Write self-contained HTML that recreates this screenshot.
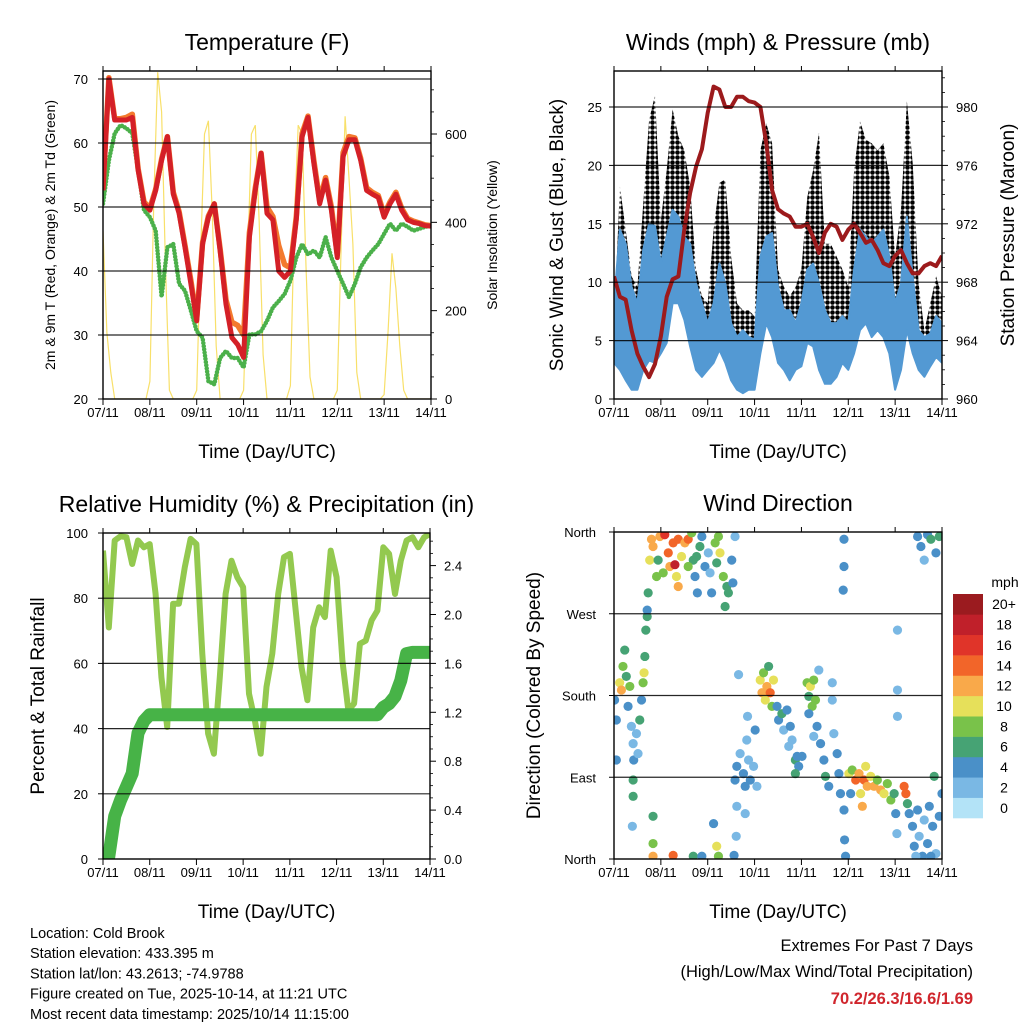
<!DOCTYPE html>
<html><head><meta charset="utf-8"><style>
html,body{margin:0;padding:0;background:#fff;}
svg{display:block;font-family:"Liberation Sans",Arial,sans-serif;}
</style></head><body>
<svg id="fig" width="1024" height="1024" viewBox="0 0 1024 1024" xmlns="http://www.w3.org/2000/svg">
<defs>
<clipPath id="c1"><rect x="103" y="71" width="328" height="328"/></clipPath>
<clipPath id="c2"><rect x="614" y="71" width="328" height="328"/></clipPath>
<clipPath id="c3"><rect x="103" y="533" width="327" height="326"/></clipPath>
<clipPath id="c4"><rect x="614" y="532" width="328" height="327"/></clipPath>
<pattern id="dots" width="5" height="5" patternUnits="userSpaceOnUse"><circle cx="2.5" cy="2.5" r="2.3" fill="#000"/></pattern>
</defs>
</svg>
<script>
// ---------- data (3-hourly, hour 0..168) ----------
const dayLabels = ["07/11","08/11","09/11","10/11","11/11","12/11","13/11","14/11"];
const temp2m = [52.6,70,63.6,63.6,63.6,64,55.8,50.5,49.5,52.6,57.3,61,52,49,43.7,38,32.2,44.2,48.4,50.5,43.2,34.8,29.6,28.5,26.5,45.3,52.6,58.4,49,48,40,39,40,48,61,64,56.8,50.5,54.2,49.5,42.1,57.9,60.5,60.5,57.3,52.6,52,51.5,48.4,50.5,52,49.5,48,47.6,47.4,47.1,47];
const temp9m = [53,70.2,63.8,63.8,64,64.5,56,50.8,49.8,52.8,57.5,61,52.3,49.3,44,38.5,32.5,44.5,48.6,50.5,43.5,35.5,32,31.5,30,46,53,58.4,50,48.5,44,41,40.5,48.5,61.5,64.2,57.2,51,54.6,50,42.5,58.5,61,60.8,57.6,53,52.3,51.8,48.8,50.8,52.3,49.8,48.2,47.8,47.5,47.2,47.1];
const dewpt = [50.5,57.3,61.5,62.8,62.3,61.5,55.8,49.5,48.4,46.3,36,43.7,44.2,38,36.9,33.8,30.6,29.6,22.8,22.3,26.4,27.5,26.4,26.4,24.9,30.1,30.1,30.6,32.2,34.3,35.3,36.4,38.5,42.1,44.2,42.6,43.2,42.1,45.3,42.1,40,38,35.9,38,40.6,42.1,43.2,44.2,45.8,47.4,46.3,47.4,46.9,46.3,46.6,46.9,47.1];
// solar, 2-hourly
const solar = [380,150,60,0,0,0,0,0,0,0,0,0, 40,450,740,650,300,20,0,0,0,0,0,0, 20,330,600,630,420,120,0,0,0,0,0,0, 20,300,600,620,400,100,0,0,0,0,0,0, 30,400,620,600,300,50,0,0,0,0,0,0, 20,350,640,500,350,60,0,0,0,0,0,0, 10,150,330,250,120,20,0,0,0,0,0,0, 0];
const pressure = [968.4,967.0,966.8,964.7,963.1,962.2,961.5,962.4,964.3,967.0,968.2,968.4,971.6,974.1,975.9,977.1,979.6,981.4,981.2,980.0,980.0,980.7,980.7,980.4,980.3,980.0,977.5,974.3,973.0,972.7,972.5,971.8,971.8,972.0,971.1,970.0,971.4,972.0,971.8,970.9,971.6,972.0,971.4,970.7,970.9,970.2,969.3,969.1,969.8,970.2,969.3,968.6,968.6,969.1,969.3,969.1,969.8];
const windHi = [8.2,14.5,13.3,9.6,8.2,12.8,15,14.8,11.6,13.9,16.2,15.6,13.9,13.3,9.9,8.2,6.5,8.2,11.6,9.9,6.5,5.3,5.9,5.3,5.1,12.2,13.9,14.2,9.6,7.6,7.6,6.5,8.2,11.1,11.6,9.9,7.6,6.5,6.5,7.1,6.5,11.1,14.5,13.9,13.3,13.9,14.5,12.2,8.2,9.9,15.6,10.5,5.9,5.3,5.6,7.1,6.5];
const windLo = [3.1,2.5,1.6,0.8,0.8,2.5,3.3,3.1,3.9,4.8,8.2,8.2,6.8,4.5,2.5,1.9,2.5,3.1,4.2,3.1,1.6,0.8,0.5,0.8,0.8,3.9,6.5,5.3,3.1,2.5,1.6,2.5,2.8,4.8,4.5,2.5,1.3,1.3,1.9,3.1,2.5,3.9,5.9,6.5,5.3,5.9,5.3,3.9,0.8,2.5,5.9,3.9,2.5,1.9,2.8,3.6,3.1];
const gustMax = [6.5,18.2,14.5,10.5,9.6,16.8,23.9,26,15.3,19.6,24.8,22.5,21.3,18.2,11.1,8.8,8.2,14.5,18.5,18.8,12.2,8.2,7.6,7.6,7.1,21.3,23.6,21.9,11.1,9.6,8.8,9.6,11.1,17.3,19.6,22.8,13.3,13.3,12.2,11.1,9.6,19.6,23.8,22.2,21.9,21.3,21.9,19.1,12.2,16.2,25.5,20.2,9.9,5.9,8.2,10.5,8.8];
const rh = [94.6,71,97.7,99,98.7,90.5,97.7,95.6,96.6,81.3,55.8,40.5,78.3,78.3,89.5,98.2,96.6,63,38.5,32.3,55.8,81.3,91.5,86.4,83.4,50.7,42.6,32.3,52.8,63,81.3,92.6,93.6,76.2,58.9,48.7,71,77.2,74.2,94.6,86.4,60.9,45.6,47.7,66,67,73.2,76.2,95.6,93.6,81.3,91.5,97.7,98.7,95.6,98.7,99.7];
const precip = [0,0.02,0.35,0.48,0.59,0.70,1.03,1.13,1.18,1.18,1.18,1.18,1.18,1.18,1.18,1.18,1.18,1.18,1.18,1.18,1.18,1.18,1.18,1.18,1.18,1.18,1.18,1.18,1.18,1.18,1.18,1.18,1.18,1.18,1.18,1.18,1.18,1.18,1.18,1.18,1.18,1.18,1.18,1.18,1.18,1.18,1.18,1.18,1.24,1.27,1.33,1.46,1.68,1.69,1.69,1.69,1.69];
// wind direction scatter
const dirHour = [0.3,1.2,1.2,2.9,3.8,4.6,5.5,6.3,7.2,8.1,8.9,9.8,10.1,9.8,9.8,11.5,12.3,13.2,14.1,14.9,15.4,15.8,16.3,17,17,9.4,20,20,20,30.3,40.6,45,51,52.6,53.5,
17.5,18.3,19.2,20,21.8,22.6,23.5,26,27.8,28.6,30.3,31.2,32,32.9,32.9,34.6,36.3,38,39.8,40.6,41.5,42.7,44,45,46.6,48.3,49.2,50,51.8,52.6,53.5,54.3,56,56.9,57.8,58.6,60.3,62,60.9,38,25.2,42.3,
62,62.9,62.9,62.6,61.5,64.6,66.3,67.2,68,68.9,69.8,71.5,72.3,63.8,68.4,73.2,67.2,
74.9,75.8,76.6,77.5,78.3,79.2,80,80.9,81.7,83.5,84.3,86,86.9,88.6,90.3,91.2,92.9,94.6,89.5,96.3,
98.9,99.8,100.6,101.5,102.3,103.2,99.8,104,104.9,105.8,107.5,108.3,110,111.8,111.8,112.6,114.3,115.2,116,117.8,118.1,118.6,117.8,117.8,117.4,102.3,93.8,92.9,
120.3,121.2,122,123.8,125.5,126.3,127.2,128.1,128.9,129.7,131.5,133.2,134.9,136.6,138.3,140,141.8,143.5,144.3,144.9,145.2,145.2,145.2,148.6,149.5,150.3,151.2,
152.9,153.8,155.5,156.3,158,158.9,160.6,161.5,163.2,164,164.9,166.6,168,154.6,162.3,
155.5,157.2,158.9,160.6,162.3,164.9,166.6];
const dirDeg = [175,153,109,194,186,212,230,201,168,190,146,127,109,87,69,138,116,153,175,194,205,223,252,267,274,36,47,17,3,4,3,3,39,14,3,
293,329,352,344,311,329,355,357,337,322,348,324,311,352,300,333,348,352,359,329,311,293,344,355,322,337,315,293,348,326,355,337,311,278,300,293,329,355,304,322,315,333,
87,102,58,25,4,116,94,80,131,109,87,102,142,203,157,80,50,
197,183,205,175,190,212,183,168,197,168,153,160,142,164,146,131,109,102,124,113,
194,179,190,168,197,175,160,146,208,127,109,91,80,194,175,138,116,94,72,54,21,3,352,322,296,135,113,94,
94,72,98,87,94,72,58,87,102,80,91,80,87,76,72,83,65,72,50,28,252,186,157,80,72,61,50,
36,14,54,25,3,43,17,58,36,91,6,47,72,3,3,
355,344,329,357,352,337,355];
const dirSpd = [4,4,4,10,12,8,6,6,4,8,2,2,4,6,6,2,2,6,4,8,10,6,6,6,4,2,6,8,12,14,6,4,4,10,8,
6,10,12,12,8,6,12,16,14,12,14,18,10,14,12,10,12,14,8,6,4,4,6,4,4,2,2,4,8,6,8,10,8,6,6,6,4,2,4,8,8,6,
4,4,2,2,4,2,4,4,2,2,4,2,4,1,2,2,2,
10,12,8,10,12,6,14,8,10,4,4,6,2,4,4,2,6,4,2,4,
8,6,10,8,8,8,4,4,2,4,4,6,4,2,2,2,4,4,4,4,4,4,4,4,4,2,4,6,
10,4,8,14,12,10,12,14,10,12,10,12,8,12,10,8,8,6,4,2,1,1,1,14,14,6,4,
4,4,4,2,4,2,4,4,4,6,2,4,4,2,4,
4,4,2,4,6,4,6];
const spdLabels = ["0","2","4","6","8","10","12","14","16","18","20+"];
const spdColors = ["#b3e3f7","#7ab8e4","#4a90c8","#46a374","#79c24a","#e6e05a","#f9a94a","#f26529","#e03429","#c0202a","#9b1b1f"];

// ---------- helpers ----------
const NS="http://www.w3.org/2000/svg";
const svg=document.getElementById('fig');
function el(tag,attrs,parent,text){const e=document.createElementNS(NS,tag);for(const k in attrs)e.setAttribute(k,attrs[k]);if(text!==undefined)e.textContent=text;(parent||svg).appendChild(e);return e;}
function panel(p){const g=el('g',{});return g;}
function linear(d0,d1,r0,r1){return v=>r0+(v-d0)*(r1-r0)/(d1-d0);}
function pathOf(xs,ys){return xs.map((x,i)=>(i?'L':'M')+x.toFixed(1)+','+ys[i].toFixed(1)).join('');}
function hours(n,step){return Array.from({length:n},(_,i)=>i*step);}
const h3=hours(57,3), h2=hours(85,2);

function frame(g,P){
  P.grid.forEach(v=>{const y=P.yl(v);const l=el('line',{x1:P.x0,x2:P.x1,y1:y,y2:y,stroke:'#000','stroke-width':1.2,'stroke-opacity':0.85},g);
    });
  const r=el('rect',{x:P.x0,y:P.y0,width:P.x1-P.x0,height:P.y1-P.y0,fill:'none',stroke:'#000','stroke-width':1.4},g);
  
  const xs=linear(0,168,P.x0,P.x1);
  dayLabels.forEach((lab,i)=>{const x=xs(i*24);
    el('line',{x1:x,x2:x,y1:P.y1,y2:P.y1+6,stroke:'#000','stroke-width':1},g);
    el('line',{x1:x,x2:x,y1:P.y0,y2:P.y0-5,stroke:'#000','stroke-width':1},g);
    const t=el('text',{x:x,y:P.y1+18,'font-size':13,'text-anchor':'middle'},g,lab);
    });
  const xt=el('text',{x:(P.x0+P.x1)/2,y:P.y1+59,'font-size':19,'text-anchor':'middle'},g,'Time (Day/UTC)');
  
  const tt=el('text',{x:(P.x0+P.x1)/2,y:P.y0-21,'font-size':23,'text-anchor':'middle'},g,P.title);
  
  P.lt.forEach((v,i)=>{const y=P.yl(v);
    el('line',{x1:P.x0-5,x2:P.x0,y1:y,y2:y,stroke:'#000'},g);
    const t=el('text',{x:P.x0-(P.lpad||15),y:y+5,'font-size':13,'text-anchor':'end'},g,P.ll[i]);
    });
  if(P.rt){P.rt.forEach((v,i)=>{const y=P.yr(v);
    el('line',{x1:P.x1,x2:P.x1+6,y1:y,y2:y,stroke:'#000'},g);
    const t=el('text',{x:P.x1+14,y:y+5,'font-size':13},g,P.rl[i]);
    });
    if(P.rminor)P.rminor.forEach(v=>{const y=P.yr(v);el('line',{x1:P.x1,x2:P.x1+3,y1:y,y2:y,stroke:'#000','stroke-width':0.8},g);});
  }
  const cy=(P.y0+P.y1)/2;
  const ly=el('text',{x:P.ltx,y:cy,'font-size':P.lfs,'text-anchor':'middle',transform:`rotate(-90 ${P.ltx} ${cy})`},g,P.ltitle);
  
  if(P.rtitle){const ry=el('text',{x:P.rtx,y:cy,'font-size':P.rfs,'text-anchor':'middle',transform:`rotate(-90 ${P.rtx} ${cy})`},g,P.rtitle);
    }
}

// ---------- Panel 1: temperature ----------
(function(){
  const P={x0:103,x1:431,y0:71,y1:399,title:'Temperature (F)',name:'temperature-panel'};
  P.yl=linear(20,70,399,79);P.yr=linear(0,600,399,134);
  P.grid=[30,40,50,60,70];P.lt=[20,30,40,50,60,70];P.ll=P.lt.map(String);
  P.rt=[0,200,400,600];P.rl=P.rt.map(String);P.rminor=[50,100,150,250,300,350,450,500,550,650,700];
  P.ltx=55;P.lfs=14;P.ltitle='2m & 9m T (Red, Orange) & 2m Td (Green)';P.rtx=497;P.rfs=14;P.rtitle='Solar Insolation (Yellow)';
  const g=panel(P);const d=el('g',{'clip-path':'url(#c1)'},g);
  const xs=linear(0,168,P.x0,P.x1);
  const s=el('path',{d:pathOf(h2.map(xs),solar.map(P.yr)),fill:'none',stroke:'#f8e06a','stroke-width':1.2},d);
  
  const dp=el('path',{d:pathOf(h3.map(xs),dewpt.map(P.yl)),fill:'none',stroke:'#4bb04a','stroke-width':4.5,'stroke-linejoin':'round','stroke-linecap':'round','stroke-dasharray':'0 3.2'},d);
  
  const o=el('path',{d:pathOf(h3.map(xs),temp9m.map(P.yl)),fill:'none',stroke:'#f37a2e','stroke-width':5.5,'stroke-linejoin':'round'},d);
  
  const r=el('path',{d:pathOf(h3.map(xs),temp2m.map(P.yl)),fill:'none',stroke:'#d42027','stroke-width':5,'stroke-linejoin':'round'},d);
  
  frame(g,P);
})();

// ---------- Panel 2: winds ----------
(function(){
  const P={x0:614,x1:942,y0:71,y1:399,title:'Winds (mph) & Pressure (mb)',name:'winds-panel'};
  P.yl=linear(0,25,399,107);P.yr=linear(960,980,399,107);
  P.grid=[5,10,15,20,25];P.lt=[0,5,10,15,20,25];P.ll=P.lt.map(String);P.lpad=12;
  P.rt=[960,964,968,972,976,980];P.rl=P.rt.map(String);P.rminor=[961,962,963,965,966,967,969,970,971,973,974,975,977,978,979,981,982];
  P.ltx=563;P.lfs=19;P.ltitle='Sonic Wind & Gust (Blue, Black)';P.rtx=1014;P.rfs=19;P.rtitle='Station Pressure (Maroon)';
  const g=panel(P);const d=el('g',{'clip-path':'url(#c2)'},g);
  const xs=linear(0,168,P.x0,P.x1);
  const X=h3.map(xs);
  const gp='M'+X.map((x,i)=>x.toFixed(1)+','+P.yl(gustMax[i]).toFixed(1)).join('L')+'L'+X.slice().reverse().map((x,j)=>x.toFixed(1)+','+P.yl(windLo[56-j]).toFixed(1)).join('L')+'Z';
  const gb=el('path',{d:gp,fill:'url(#dots)',stroke:'none'},d);
  
  const wp='M'+X.map((x,i)=>x.toFixed(1)+','+P.yl(windHi[i]).toFixed(1)).join('L')+'L'+X.slice().reverse().map((x,j)=>x.toFixed(1)+','+P.yl(windLo[56-j]).toFixed(1)).join('L')+'Z';
  const wb=el('path',{d:wp,fill:'#5399d3',stroke:'#5399d3','stroke-width':2,'stroke-linejoin':'round'},d);
  
  const pr=el('path',{d:pathOf(X,pressure.map(P.yr)),fill:'none',stroke:'#9c1a1c','stroke-width':4,'stroke-linejoin':'round'},d);
  
  frame(g,P);
})();

// ---------- Panel 3: RH & precip ----------
(function(){
  const P={x0:103,x1:430,y0:533,y1:859,title:'Relative Humidity (%) & Precipitation (in)',name:'humidity-panel'};
  P.yl=linear(0,100,859,533);P.yr=linear(0,2.4,859,565.6);
  P.grid=[20,40,60,80];P.lt=[0,20,40,60,80,100];P.ll=P.lt.map(String);
  P.rt=[0,0.4,0.8,1.2,1.6,2.0,2.4];P.rl=P.rt.map(v=>v.toFixed(1));P.rminor=[0.1,0.2,0.3,0.5,0.6,0.7,0.9,1.0,1.1,1.3,1.4,1.5,1.7,1.8,1.9,2.1,2.2,2.3,2.5,2.6];
  P.ltx=44;P.lfs=19;P.ltitle='Percent & Total Rainfall';
  const g=panel(P);const d=el('g',{'clip-path':'url(#c3)'},g);
  const xs=linear(0,168,P.x0,P.x1);const X=h3.map(xs);
  const rp=el('path',{d:pathOf(X,rh.map(P.yl)),fill:'none',stroke:'#93c94f','stroke-width':6,'stroke-linejoin':'round'},d);
  
  const pp=el('path',{d:pathOf(X,precip.map(P.yr)),fill:'none',stroke:'#47b347','stroke-width':13,'stroke-linejoin':'round','stroke-linecap':'round'},d);
  
  frame(g,P);
})();

// ---------- Panel 4: wind direction ----------
(function(){
  const P={x0:614,x1:942,y0:532,y1:859,title:'Wind Direction',name:'wind-direction-panel'};
  P.yl=linear(0,360,859,532);
  P.grid=[90,180,270];P.lt=[0,90,180,270,360];P.ll=['North','East','South','West','North'];P.lpad=18;
  P.ltx=540;P.lfs=19;P.ltitle='Direction (Colored By Speed)';
  const g=panel(P);const d=el('g',{'clip-path':'url(#c4)'},g);
  const xs=linear(0,168,P.x0,P.x1);
  dirHour.forEach((h,i)=>{const ci=Math.min(10,Math.round(dirSpd[i]/2));
    const c=el('circle',{cx:xs(h),cy:P.yl(dirDeg[i]),r:4.6,fill:spdColors[ci]},d);
    });
  frame(g,P);
  const cb=el('g',{});
  const bh=224/11;
  spdColors.forEach((c,i)=>{const y=818-(i+1)*bh;
    const r=el('rect',{x:953,y:y,width:30,height:bh+0.3,fill:c},cb);
    
    const t=el('text',{x:1004,y:y+bh/2+5,'font-size':14,'text-anchor':'middle'},cb,spdLabels[i]);
    });
  const u=el('text',{x:1005,y:587,'font-size':14,'text-anchor':'middle'},cb,'mph');
  
})();

// ---------- footer text ----------
(function(){
  const info=['Location: Cold Brook','Station elevation: 433.395 m','Station lat/lon: 43.2613; -74.9788','Figure created on Tue, 2025-10-14, at 11:21 UTC','Most recent data timestamp: 2025/10/14 11:15:00'];
  info.forEach((s,i)=>{const t=el('text',{x:30,y:938+i*20.2,'font-size':14.5},svg,s);
    });
  const a=el('text',{x:973,y:951,'font-size':16.5,'text-anchor':'end'},svg,'Extremes For Past 7 Days');
  
  const b=el('text',{x:973,y:977,'font-size':16.5,'text-anchor':'end'},svg,'(High/Low/Max Wind/Total Precipitation)');
  
  const c=el('text',{x:973,y:1004,'font-size':16.5,'text-anchor':'end','font-weight':'bold',fill:'#d0262d'},svg,'70.2/26.3/16.6/1.69');
  
})();
</script>
</body></html>
